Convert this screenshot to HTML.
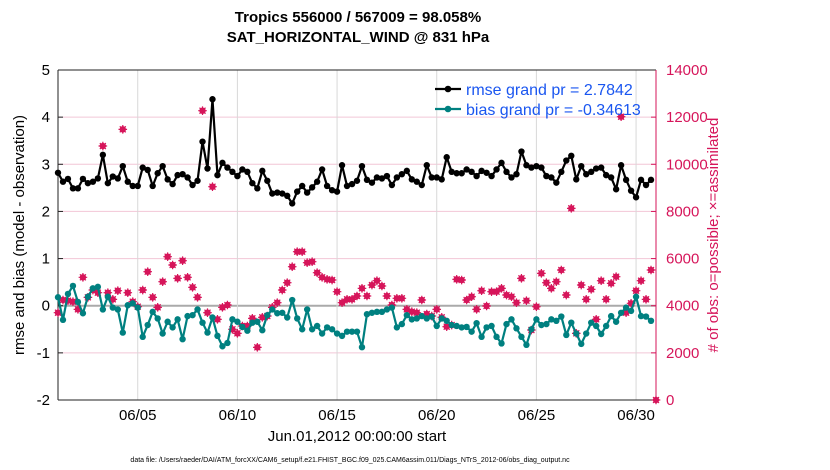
<!DOCTYPE html>
<html><head><meta charset="utf-8">
<style>
html,body{margin:0;padding:0;background:#fff;}
svg{display:block;font-family:"Liberation Sans",Arial,sans-serif;}
</style></head>
<body>
<svg id="chart" width="830" height="470" viewBox="0 0 830 470">
<text x="358" y="22" text-anchor="middle" font-size="15" font-weight="bold">Tropics 556000 / 567009 = 98.058%</text>
<text x="358" y="42" text-anchor="middle" font-size="15" font-weight="bold">SAT_HORIZONTAL_WIND @ 831 hPa</text>
<g id="grid"></g>
<g id="axes"></g>
<g id="series"></g>
<text x="24" y="235" transform="rotate(-90 24 235)" text-anchor="middle" font-size="15">rmse and bias (model - observation)</text>
<text x="718" y="235" transform="rotate(-90 718 235)" text-anchor="middle" font-size="15" fill="#d6155a"># of obs: o=possible; ×=assimilated</text>
<text x="357" y="441" text-anchor="middle" font-size="15">Jun.01,2012 00:00:00 start</text>
<text x="350" y="462" text-anchor="middle" font-size="7">data file: /Users/raeder/DAI/ATM_forcXX/CAM6_setup/f.e21.FHIST_BGC.f09_025.CAM6assim.011/Diags_NTrS_2012-06/obs_diag_output.nc</text>
<g>
<line x1="435" y1="89" x2="461" y2="89" stroke="#000" stroke-width="2.2"/>
<circle cx="448" cy="89" r="3.3" fill="#000"/>
<text x="466" y="95" font-size="16" fill="#1a56f0">rmse grand pr = 2.7842</text>
<line x1="435" y1="109" x2="461" y2="109" stroke="#008080" stroke-width="2.2"/>
<circle cx="448" cy="109" r="3.3" fill="#008080"/>
<text x="466" y="115" font-size="16" fill="#1a56f0">bias grand pr = -0.34613</text>
</g>
</svg>
<script>
const leftTicks=[-2,-1,0,1,2,3,4,5];
const rightTicks=[0,2000,4000,6000,8000,10000,12000,14000];
const dateTicks=["06/05","06/10","06/15","06/20","06/25","06/30"];
const dateTickIdx=[16,36,56,76,96,116];
const rmse=[2.82,2.63,2.69,2.49,2.49,2.69,2.6,2.63,2.70,3.2,2.6,2.74,2.70,2.96,2.63,2.54,2.54,2.93,2.88,2.54,2.81,2.96,2.68,2.58,2.77,2.79,2.72,2.56,2.65,3.48,2.91,4.38,2.77,3.03,2.93,2.84,2.75,2.89,2.84,2.6,2.49,
2.86,2.65,2.38,2.4,2.38,2.33,2.17,2.42,2.54,2.4,2.51,2.63,2.89,2.54,2.45,2.42,2.98,2.54,2.58,2.65,2.96,2.67,2.61,2.72,2.70,2.75,2.56,2.72,2.79,2.86,2.68,2.63,2.56,2.98,2.72,2.72,2.68,3.15,2.84,2.81,
2.81,2.89,2.84,2.75,2.86,2.82,2.75,2.89,3.03,2.84,2.72,2.79,3.27,2.98,2.93,2.96,2.93,2.75,2.72,2.61,2.84,3.08,3.18,2.68,2.96,2.79,2.84,2.91,2.93,2.77,2.72,2.47,2.98,2.67,2.44,2.30,2.67,2.56,2.67];
const bias=[0.18,-0.30,0.25,0.42,0.08,-0.16,0.19,0.37,0.40,-0.08,0.19,-0.04,-0.08,-0.57,0.01,0.05,-0.04,-0.66,-0.41,-0.13,-0.27,-0.59,-0.34,-0.46,-0.29,-0.71,-0.22,-0.20,-0.08,-0.36,-0.57,-0.25,-0.64,-0.86,-0.79,-0.29,-0.34,-0.45,-0.53,-0.36,-0.34,
-0.52,-0.2,-0.08,-0.16,-0.15,-0.25,0.12,-0.27,-0.50,-0.08,-0.50,-0.43,-0.59,-0.46,-0.50,-0.59,-0.64,-0.55,-0.55,-0.55,-0.88,-0.18,-0.15,-0.13,-0.13,-0.08,-0.04,-0.46,-0.39,-0.2,-0.29,-0.27,-0.22,-0.27,-0.23,-0.43,-0.27,-0.32,-0.41,-0.43,
-0.46,-0.45,-0.55,-0.37,-0.66,-0.46,-0.43,-0.66,-0.80,-0.39,-0.29,-0.48,-0.66,-0.83,-0.50,-0.29,-0.41,-0.39,-0.29,-0.32,-0.23,-0.62,-0.36,-0.59,-0.81,-0.59,-0.36,-0.43,-0.60,-0.43,-0.22,-0.34,-0.15,-0.04,-0.11,0.19,-0.22,-0.23,-0.32];
const obsCount=[3705,4242,4214,4171,3846,5204,4355,4666,4553,10775,4553,4270,4638,11482,4553,4171,3959,4666,5444,4355,3931,5020,6080,5727,5161,5911,5204,4779,4355,12273,3705,9050,3422,3931,4030,2998,2828,3139,3139,3464,2234,
3507,3563,3931,4129,4666,4977,5656,6292,6292,5826,5868,5401,5204,5119,5090,4596,4129,4270,4270,4412,4737,4412,4878,5062,4836,4412,4030,4313,4313,3846,3747,3705,4242,3648,3563,3846,3507,3111,3181,5119,
5090,4242,4383,3846,4638,3988,4596,4596,4737,4454,4383,4129,5161,4214,2969,3959,5373,4977,4737,5020,5515,4454,8131,2828,4878,4270,4694,3422,5062,4270,4949,5232,12019,3705,4101,4638,5062,4270,5515,0];

const X0=58,X1=656,Y0=70,Y1=400;
const xs=i=>X0+i*(X1-X0)/120;
const yl=v=>Y0+(5-v)*(Y1-Y0)/7;
const yr=c=>Y1-c/14000*(Y1-Y0);
const NS="http://www.w3.org/2000/svg";
function mk(tag,attrs,parent){const e=document.createElementNS(NS,tag);for(const k in attrs)e.setAttribute(k,attrs[k]);parent.appendChild(e);return e;}
const grid=document.getElementById('grid'),axes=document.getElementById('axes'),series=document.getElementById('series');
const MAG="#d6155a",TEAL="#008080";

leftTicks.forEach(v=>{
  const y=yl(v);
  if(v>-2&&v<5&&v!==0){const g=mk('line',{x1:X0,x2:X1,y1:y,y2:y,stroke:'#f2c6d6','stroke-width':1},grid);
  
  }
  const t=mk('text',{x:X0-8,y:y+5,'text-anchor':'end','font-size':15},axes);t.textContent=v;
  
  
  mk('line',{x1:X0,x2:X0+5,y1:y,y2:y,stroke:'#222'},axes);
});
const z=mk('line',{x1:X0,x2:X1,y1:yl(0),y2:yl(0),stroke:'#aaa','stroke-width':2},grid);


rightTicks.forEach(c=>{
  const y=yr(c);
  const t=mk('text',{x:X1+10,y:y+5,'font-size':15,fill:MAG},axes);t.textContent=c;
  
  
  mk('line',{x1:X1-5,x2:X1,y1:y,y2:y,stroke:MAG},axes);
});
dateTicks.forEach((d,k)=>{
  const x=xs(dateTickIdx[k]);
  const g=mk('line',{x1:x,x2:x,y1:Y0,y2:Y1,stroke:'#d8d8d8'},grid);
  
  
  const t=mk('text',{x:x,y:Y1+20,'text-anchor':'middle','font-size':15},axes);t.textContent=d;
  
  
});
mk('line',{x1:X0,x2:X1,y1:Y0,y2:Y0,stroke:'#222'},axes);
mk('line',{x1:X0,x2:X1,y1:Y1,y2:Y1,stroke:'#222'},axes);
mk('line',{x1:X0,x2:X0,y1:Y0,y2:Y1,stroke:'#222'},axes);
mk('line',{x1:X1,x2:X1,y1:Y0,y2:Y1,stroke:MAG},axes);

obsCount.forEach((c,i)=>{
  const x=xs(i),y=yr(c);
  const g=mk('g',{},series);
  
  
  mk('circle',{cx:x,cy:y,r:3.2,fill:MAG},g);
  mk('path',{d:`M${x-4.3},${y}H${x+4.3}M${x},${y-4.3}V${y+4.3}M${x-3},${y-3}L${x+3},${y+3}M${x-3},${y+3}L${x+3},${y-3}`,stroke:MAG,'stroke-width':1.2},g);
});
function line(arr,color,name){
  const p=mk('polyline',{points:arr.map((v,i)=>xs(i)+','+yl(v)).join(' '),fill:'none',stroke:color,'stroke-width':2.2,'stroke-linejoin':'round'},series);
  
  
  arr.forEach((v,i)=>{
    const c=mk('circle',{cx:xs(i),cy:yl(v),r:3.2,fill:color},series);
    
    
  });
}
line(bias,TEAL,'bias');
line(rmse,'#000','rmse');
</script>
</body></html>
